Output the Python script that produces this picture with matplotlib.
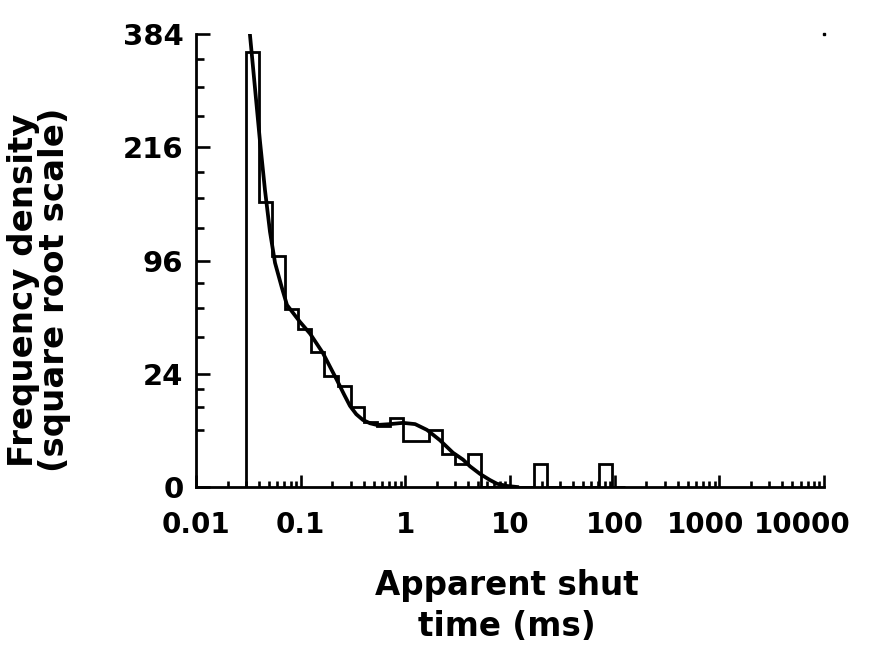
import numpy as np
import matplotlib
matplotlib.use('Agg')
import matplotlib.pyplot as plt
from matplotlib.ticker import LogLocator, NullFormatter
import matplotlib.transforms as mtransforms

# histogram of apparent shut times (log bins, 8 per decade from 0.03 ms)
bin_edges = [0.03, 0.04, 0.0533, 0.0711, 0.0949, 0.1265, 0.1687, 0.225, 0.3,
             0.4, 0.533, 0.711, 0.949, 1.265, 1.687, 2.25, 3.0, 4.0, 5.33,
             7.11, 9.49, 12.65, 16.87, 22.5, 30.0, 40.0, 53.3, 71.1, 94.9, 126.5]
freq = [354, 152, 100, 59, 47, 34, 23, 19, 12, 8, 7, 9, 4, 4, 6, 2, 1, 2,
        0, 0, 0, 0, 1, 0, 0, 0, 0, 1, 0]

# fitted curve
fit_t = [0.0328, 0.0366, 0.0409, 0.0456, 0.0509, 0.0569, 0.0663, 0.074, 0.0985,
         0.123, 0.163, 0.222, 0.26, 0.296, 0.34, 0.394, 0.46, 0.536, 0.714, 0.95,
         1.24, 1.61, 2.14, 2.85, 3.56, 4.15, 5.17, 6.44, 7.51, 9.36, 11.7]
fit_v = [382, 298, 223, 165, 122, 94, 74, 62, 51, 44, 33.6, 21.4, 16.0, 12.3,
         9.9, 8.4, 7.6, 7.2, 7.4, 7.7, 7.4, 6.1, 4.1, 2.2, 1.4, 0.8, 0.32, 0.09,
         0.02, 0.002, 0]

x_ticks = [0.01, 0.1, 1, 10, 100, 1000, 10000]
x_labels = ['0.01', '0.1', '1', '10', '100', '1000', '10000']
y_ticks = [0, 24, 96, 216, 384]
y_minor = [6, 12, 18, 42, 60, 78, 126, 156, 186, 258, 300, 342]

plt.rcParams['font.family'] = 'DejaVu Sans'
plt.rcParams['font.weight'] = 'bold'

fig = plt.figure(figsize=(8.69, 6.48), dpi=100)
ax = fig.add_axes([196/869, 1-487/648, 628/869, 453/648])

ax.stairs(freq, bin_edges, baseline=0, color='k', lw=2.0)
ax.plot(fit_t, fit_v, color='k', lw=2.7)

ax.set_xscale('log')
ax.set_yscale('function', functions=(lambda v: np.sqrt(np.clip(v, 0, None)),
                                     lambda s: s**2))
ax.set_xlim(0.01, 10000)
ax.set_ylim(0, 384)

ax.set_xticks(x_ticks)
ax.set_xticklabels(x_labels)
ax.xaxis.set_minor_locator(LogLocator(base=10, subs=range(2, 10), numticks=20))
ax.xaxis.set_minor_formatter(NullFormatter())
ax.set_yticks(y_ticks)
ax.set_yticklabels([str(v) for v in y_ticks])
ax.set_yticks(y_minor, minor=True)

for s in ['top', 'right']:
    ax.spines[s].set_visible(False)
for s in ['left', 'bottom']:
    ax.spines[s].set_linewidth(2.0)

ax.tick_params(axis='both', which='both', direction='in', width=1.9)
ax.tick_params(axis='y', which='major', length=10, pad=9, labelsize=21)
ax.tick_params(axis='y', which='minor', length=5.5)
ax.tick_params(axis='x', which='major', length=9, pad=17, labelsize=20)
ax.tick_params(axis='x', which='minor', length=4.5)

# the two last x labels are pushed left so they fit
for lbl, dx in zip(ax.get_xticklabels()[-2:], [-14, -22]):
    lbl.set_transform(lbl.get_transform() +
                      mtransforms.ScaledTranslation(dx/100, 0, fig.dpi_scale_trans))

# small dot at the top right corner
ax.plot(1, 1, transform=ax.transAxes, marker='s', ms=2, color='k', clip_on=False)

fig.text(39/869, 1-290/648, 'Frequency density\n(square root scale)', rotation=90,
         ha='center', va='center', fontsize=24.5, fontweight='bold', linespacing=0.95)
fig.text(507/869, 1-606/648, 'Apparent shut\ntime (ms)', ha='center', va='center',
         fontsize=23.5, fontweight='bold', linespacing=1.3)

fig.savefig('out.png', dpi=100)
